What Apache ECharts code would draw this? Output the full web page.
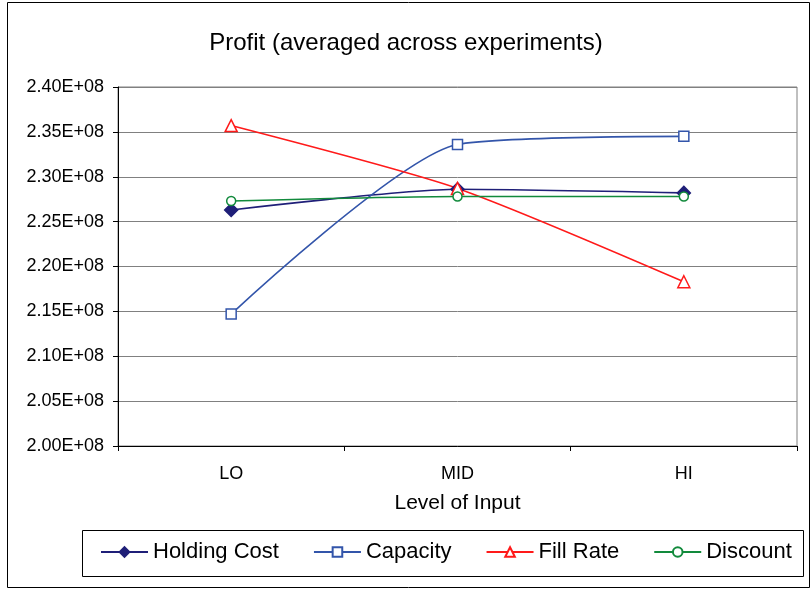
<!DOCTYPE html>
<html>
<head>
<meta charset="utf-8">
<script src="https://cdn.jsdelivr.net/npm/echarts@6/dist/echarts.min.js"></script>
<style>
  html, body { margin: 0; padding: 0; background: #fff; }
  #main { width: 812px; height: 590px; }
</style>
</head>
<body>
<div id="main"></div>
<script>
// levels of input on the x axis
var levels = ['LO', 'MID', 'HI'];

// profit averaged across experiments, per input factor
var holdingCost = [2.263e8, 2.286e8, 2.282e8];
var capacity    = [2.147e8, 2.336e8, 2.345e8];
var fillRate    = [2.357e8, 2.287e8, 2.183e8];
var discount    = [2.273e8, 2.278e8, 2.278e8];

// y axis range
var yMin = 2.00e8, yMax = 2.40e8, yStep = 0.05e8;

var font = 'Liberation Sans, Arial, sans-serif';

var myChart = echarts.init(document.getElementById('main'));

function line(name, data, color, symbol, size, filled) {
    return {
        name: name,
        type: 'line',
        data: data,
        smooth: 0.22,
        symbol: symbol,
        symbolSize: size,
        showAllSymbol: true,
        lineStyle: { color: color, width: 1.6 },
        itemStyle: {
            color: filled ? color : '#fff',
            borderColor: color,
            borderWidth: 1.5
        },
        emphasis: { disabled: true }
    };
}

var option = {
    backgroundColor: '#fff',
    animation: false,
    title: {
        text: 'Profit (averaged across experiments)',
        left: 'center',
        top: 31,
        padding: 0,
        textStyle: { fontFamily: font, fontSize: 24, fontWeight: 'normal', color: '#000' }
    },
    graphic: [
        {
            type: 'rect',
            shape: { x: 7.5, y: 2.5, width: 802, height: 585 },
            style: { fill: 'none', stroke: '#000', lineWidth: 1 },
            z: -1
        },
        {
            type: 'rect',
            shape: { x: 82.5, y: 530.5, width: 721, height: 46 },
            style: { fill: 'none', stroke: '#000', lineWidth: 1 },
            z: -1
        }
    ],
    legend: {
        left: 100,
        top: 541,
        padding: 0,
        itemGap: 34,
        itemWidth: 47,
        itemHeight: 12,
        textStyle: { fontFamily: font, fontSize: 22, color: '#000' },
        data: ['Holding Cost', 'Capacity', 'Fill Rate', 'Discount']
    },
    grid: {
        left: 118,
        right: 15,
        top: 87,
        bottom: 144,
        show: true,
        borderColor: '#808080',
        borderWidth: 1
    },
    xAxis: {
        type: 'category',
        data: levels,
        boundaryGap: true,
        name: 'Level of Input',
        nameLocation: 'middle',
        nameGap: 47,
        nameTextStyle: { fontFamily: font, fontSize: 21, color: '#000' },
        axisLine: { lineStyle: { color: '#000', width: 1 } },
        axisTick: { show: true, length: 5, lineStyle: { color: '#000' } },
        axisLabel: { fontFamily: font, fontSize: 18, color: '#000', margin: 19 }
    },
    yAxis: {
        type: 'value',
        min: yMin,
        max: yMax,
        interval: yStep,
        axisLine: { show: true, lineStyle: { color: '#000', width: 1 } },
        axisTick: { show: true, length: 5, lineStyle: { color: '#000' } },
        splitLine: { lineStyle: { color: '#808080', width: 1 } },
        axisLabel: {
            fontFamily: font,
            fontSize: 18,
            color: '#000',
            margin: 14,
            formatter: function (v) { return (v / 1e8).toFixed(2) + 'E+08'; }
        }
    },
    series: [
        line('Holding Cost', holdingCost, '#1f1f78', 'diamond', 13, true),
        line('Capacity', capacity, '#3355aa', 'rect', 10, false),
        line('Fill Rate', fillRate, '#ff1a1a', 'triangle', 12, false),
        line('Discount', discount, '#128a3c', 'circle', 9, false)
    ]
};

myChart.setOption(option);
</script>
</body>
</html>
